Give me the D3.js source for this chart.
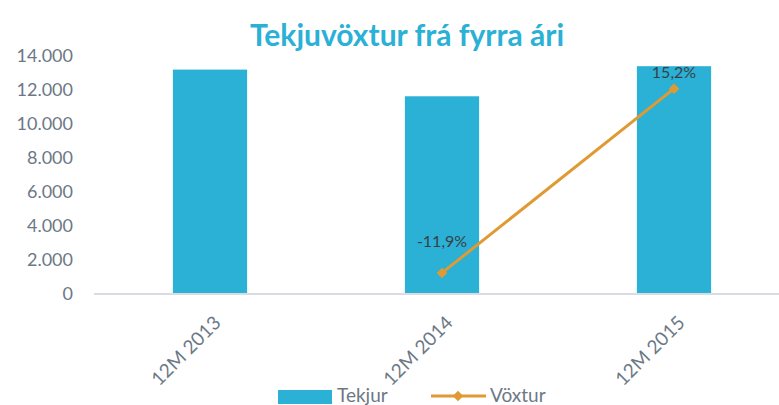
<!DOCTYPE html>
<html>
<head>
<meta charset="utf-8">
<script src="https://cdn.jsdelivr.net/npm/d3@7"></script>
<style>
  body { margin: 0; background: #fff; }
  svg { display: block; font-family: Lato, "Open Sans", sans-serif; }
</style>
</head>
<body>
<svg id="chart"></svg>
<script>
// data
const categories = ["12M 2013", "12M 2014", "12M 2015"];
const tekjur = [13200, 11630, 13400];
const voxtur = [null, -11.9, 15.2];
const yTicks = [0, 2000, 4000, 6000, 8000, 10000, 12000, 14000];

const width = 779, height = 405;
const barColor = "#2BB0D6", lineColor = "#E09A34", textColor = "#6C7886";

const svg = d3.select("#chart").attr("width", width).attr("height", height);

const x = d3.scaleBand().domain(categories).range([94, 790]).paddingInner(0.68).paddingOuter(0.34);
const y = d3.scaleLinear().domain([0, 14000]).range([294, 56]);
// secondary axis (hidden) for growth
const y2 = d3.scaleLinear().domain([-15, 20]).range([294, 56]);

const fmt = d3.formatLocale({ decimal: ",", thousands: ".", grouping: [3], currency: ["", ""], minus: "-" });
const numFmt = fmt.format(",.0f");
const pctFmt = fmt.format(".1f");

// title
svg.append("text")
  .attr("x", 407).attr("y", 46)
  .attr("text-anchor", "middle")
  .attr("font-size", 30).attr("font-weight", "bold")
  .attr("fill", barColor)
  .text("Tekjuvöxtur frá fyrra ári");

// y axis labels
svg.append("g")
  .selectAll("text")
  .data(yTicks)
  .enter()
  .append("text")
  .attr("x", 73)
  .attr("y", d => y(d))
  .attr("dy", "0.36em")
  .attr("text-anchor", "end")
  .attr("font-size", 18)
  .attr("fill", textColor)
  .text(d => numFmt(d));

// bars
svg.append("g")
  .selectAll("rect")
  .data(tekjur)
  .enter()
  .append("rect")
  .attr("x", (d, i) => x(categories[i]))
  .attr("y", d => y(d))
  .attr("width", x.bandwidth())
  .attr("height", d => y(0) - y(d))
  .attr("fill", barColor);

// baseline
svg.append("line")
  .attr("x1", 94).attr("x2", width)
  .attr("y1", y(0)).attr("y2", y(0))
  .attr("stroke", "#D9DDE2").attr("stroke-width", 2);

// x labels
svg.append("g")
  .selectAll("text")
  .data(categories)
  .enter()
  .append("text")
  .attr("transform", d => `translate(${x(d) + x.bandwidth() / 2 + 12},${y(0) + 30}) rotate(-45)`)
  .attr("text-anchor", "end")
  .attr("font-size", 19)
  .attr("fill", textColor)
  .text(d => d);

// growth line
const pts = voxtur.map((v, i) => ({ v, c: categories[i] })).filter(d => d.v !== null);
const cx = d => x(d.c) + x.bandwidth() / 2;

svg.append("path")
  .datum(pts)
  .attr("fill", "none")
  .attr("stroke", lineColor)
  .attr("stroke-width", 3)
  .attr("d", d3.line().x(cx).y(d => y2(d.v)));

svg.append("g")
  .selectAll("path")
  .data(pts)
  .enter()
  .append("path")
  .attr("transform", d => `translate(${cx(d)},${y2(d.v)})`)
  .attr("d", d3.symbol(d3.symbolDiamond2, 70))
  .attr("fill", lineColor);

// data labels (Excel placed them at different heights)
const labelOffset = [26, 11];
svg.append("g")
  .selectAll("text")
  .data(pts)
  .enter()
  .append("text")
  .attr("x", cx)
  .attr("y", (d, i) => y2(d.v) - labelOffset[i])
  .attr("text-anchor", "middle")
  .attr("font-size", 16)
  .attr("fill", "#3A3F46")
  .text(d => pctFmt(d.v) + "%");

// legend
const leg = svg.append("g").attr("transform", "translate(0,396)");
leg.append("rect").attr("x", 278).attr("y", -6).attr("width", 54).attr("height", 14).attr("fill", barColor);
leg.append("text").attr("x", 337).attr("y", 6).attr("font-size", 19).attr("fill", textColor).text("Tekjur");
leg.append("line").attr("x1", 431).attr("x2", 486).attr("y1", 0).attr("y2", 0)
  .attr("stroke", lineColor).attr("stroke-width", 3);
leg.append("path").attr("transform", "translate(458,0)")
  .attr("d", d3.symbol(d3.symbolDiamond2, 70)).attr("fill", lineColor);
leg.append("text").attr("x", 490).attr("y", 6).attr("font-size", 19).attr("fill", textColor).text("Vöxtur");
</script>
</body>
</html>
